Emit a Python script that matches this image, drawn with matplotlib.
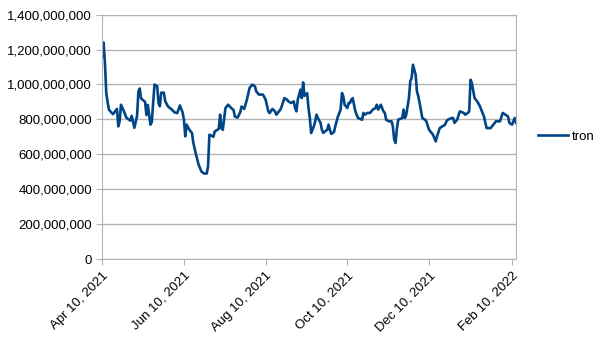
import matplotlib
matplotlib.use('Agg')
import matplotlib.pyplot as plt
import matplotlib.dates as mdates
import matplotlib.ticker as mticker
import pandas as pd

# days after 2021-04-10
days = [0, 1, 2, 3, 4, 5, 7, 8, 11, 12, 13, 14, 16, 18, 21, 22, 24, 26, 27, 28,
        29, 32, 33, 34, 36, 37, 39, 41, 42, 43, 44, 46, 47, 49, 52, 54, 56, 58, 60, 61,
        62, 63, 65, 67, 68, 70, 72, 74, 76, 78, 79, 80, 82, 83, 84, 87, 88, 89, 90, 92,
        94, 97, 98, 99, 101, 103, 104, 106, 108, 110, 112, 114, 115, 117, 119, 120, 122, 124, 125, 127,
        129, 130, 133, 134, 136, 138, 139, 141, 143, 144, 145, 146, 148, 149, 150, 151, 153, 154, 155, 156,
        158, 159, 160, 161, 163, 164, 165, 168, 169, 170, 171, 173, 174, 176, 178, 179, 180, 181, 183, 184,
        185, 186, 187, 189, 190, 191, 194, 195, 196, 198, 200, 202, 204, 205, 206, 208, 210, 211, 212, 214,
        216, 217, 218, 219, 220, 221, 224, 225, 226, 227, 229, 230, 231, 232, 234, 235, 236, 237, 239, 241,
        242, 244, 246, 247, 249, 250, 252, 254, 256, 257, 258, 261, 262, 263, 265, 267, 270, 271, 273, 274,
        275, 276, 278, 280, 282, 283, 285, 287, 290, 292, 294, 297, 299, 301, 303, 304, 306, 308, 309]
# millions
tron = [1160, 1240, 1125, 950, 900, 855, 838, 830, 860, 760, 790, 884, 850, 810, 793, 820, 752, 820, 960, 977,
        920, 900, 825, 883, 770, 785, 999, 990, 895, 875, 953, 953, 905, 875, 856, 840, 836, 880, 840, 798,
        703, 770, 741, 722, 666, 600, 540, 502, 490, 490, 530, 712, 705, 700, 731, 745, 827, 750, 740, 865,
        884, 860, 855, 817, 810, 840, 874, 860, 913, 980, 999, 990, 960, 942, 942, 942, 913, 846, 836, 860,
        846, 827, 856, 874, 922, 913, 903, 894, 903, 865, 846, 913, 970, 922, 1012, 935, 950, 865, 808, 722,
        760, 789, 827, 808, 780, 741, 723, 741, 770, 741, 717, 727, 760, 817, 856, 951, 932, 884, 865, 894,
        894, 913, 922, 846, 827, 808, 798, 837, 827, 837, 837, 856, 865, 884, 856, 884, 846, 837, 798, 789,
        789, 760, 684, 665, 745, 798, 808, 856, 808, 827, 922, 1018, 1037, 1113, 1056, 960, 932, 894, 808, 798,
        789, 741, 722, 712, 674, 703, 750, 760, 770, 789, 798, 808, 808, 780, 798, 846, 837, 827, 837, 846,
        1027, 1008, 922, 903, 875, 856, 817, 750, 750, 770, 789, 789, 837, 827, 817, 780, 770, 808, 780]

start = pd.Timestamp('2021-04-10')
dates = start + pd.to_timedelta(days, unit='D')
values = [v * 1e6 for v in tron]
xticks = pd.to_datetime(['2021-04-10', '2021-06-10', '2021-08-10', '2021-10-10', '2021-12-10', '2022-02-10'])

plt.rcParams['font.family'] = ['Liberation Sans', 'DejaVu Sans']
fig = plt.figure(figsize=(6.05, 3.4), dpi=100)
ax = fig.add_axes([0.169, 0.238, 0.684, 0.719])

ax.plot(dates, values, color='#004586', linewidth=1.9, label='tron')

ax.set_ylim(0, 1.4e9)
ax.set_yticks([i * 2e8 for i in range(8)])
ax.yaxis.set_major_formatter(mticker.FuncFormatter(lambda v, p: f'{int(v):,}'))
ax.set_xlim(start, start + pd.Timedelta(days=309))
ax.set_xticks(xticks)
ax.xaxis.set_major_formatter(mdates.DateFormatter('%b %d, %Y'))
plt.setp(ax.get_xticklabels(), rotation=45, ha='right', rotation_mode='anchor')

ax.grid(axis='y', color='#b3b3b3', linewidth=1)
ax.set_axisbelow(True)
for s in ax.spines.values():
    s.set_color('#b3b3b3')
ax.tick_params(colors='#b3b3b3', labelcolor='black', labelsize=9.5, length=4)

ax.legend(loc='center left', bbox_to_anchor=(1.04, 0.5), frameon=False,
          handlelength=2.3, handletextpad=0.3, fontsize=9.5, borderaxespad=0)

fig.savefig('out.png', dpi=100)
